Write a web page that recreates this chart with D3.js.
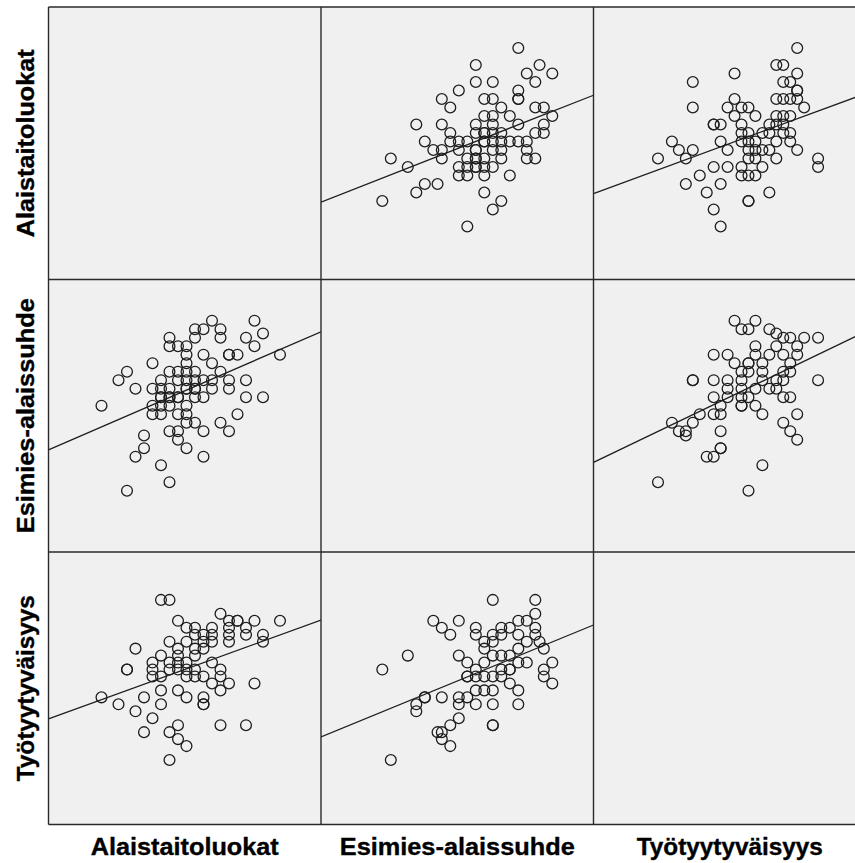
<!DOCTYPE html>
<html>
<head>
<meta charset="utf-8">
<script src="https://cdn.jsdelivr.net/npm/d3@7"></script>
<style>
  html, body { margin: 0; padding: 0; background: #fff; }
  svg { display: block; }
</style>
</head>
<body>
<svg id="chart" width="855" height="863"></svg>
<script>
// ---- Variables (scale scores) ----
const variableNames = ["Alaistaitoluokat", "Esimies-alaissuhde", "Työtyytyväisyys"];

// Pair: Esimies-alaissuhde (E) vs Alaistaitoluokat (A)
const aeEsimies = [26, 21, 28.5, 27, 30, 21, 23, 28, 19, 26, 17, 22, 23, 26, 26, 18, 24, 28, 29, 22, 23, 25, 30,
  14, 17, 21, 23, 26, 29, 18, 21, 22, 22, 23, 24, 28, 29, 15, 18, 19, 20, 22, 22, 23, 24, 25, 26, 27,
  16, 17, 19, 21, 21, 23, 24, 27, 11, 17, 20, 21, 21, 22, 24, 27, 28, 13, 19, 20, 21, 21, 22, 23,
  19, 20, 22, 25, 15, 16.5, 14, 22, 10, 24, 23, 20];
const aeAlaistaito = [40, 38, 38, 37, 37, 36, 36, 36, 35, 35, 34, 34, 34, 34, 34, 33, 33, 33, 33, 32, 32, 32, 32,
  31, 31, 31, 31, 31, 31, 30, 30, 30, 30, 30, 30, 30, 30, 29, 29, 29, 29, 29, 29, 29, 29, 29, 29, 29,
  28, 28, 28, 28, 28, 28, 28, 28, 27, 27, 27, 27, 27, 27, 27, 27, 27, 26, 26, 26, 26, 26, 26, 26,
  25, 25, 25, 25, 24, 24, 23, 23, 22, 22, 21, 19];

// Pair: Työtyytyväisyys (T) vs Alaistaitoluokat (A)
const atTyo = [40, 37, 38, 31, 40, 25, 38, 39, 40, 40, 31, 37, 38, 39, 40, 25, 30, 32, 33, 41, 31, 34, 37, 38, 39,
  28, 28, 29, 32, 36, 37, 38, 32, 33, 35, 36, 38, 39, 22, 29, 32, 33, 34, 37, 39,
  23, 25, 30, 33, 34, 35, 36, 40, 20, 24, 33, 34, 37, 43, 28, 30, 32, 35, 43,
  26, 32, 33, 34, 24, 29, 27, 36, 33, 33, 28, 29];
const atAlaistaito = [40, 38, 38, 37, 37, 36, 36, 36, 35, 35, 34, 34, 34, 34, 34, 33, 33, 33, 33, 33, 32, 32, 32, 32, 32,
  31, 31, 31, 31, 31, 31, 31, 30, 30, 30, 30, 30, 30, 29, 29, 29, 29, 29, 29, 29,
  28, 28, 28, 28, 28, 28, 28, 28, 27, 27, 27, 27, 27, 27, 26, 26, 26, 26, 26,
  25, 25, 25, 25, 24, 24, 23, 23, 22, 22, 21, 19];

// Pair: Työtyytyväisyys (T) vs Esimies-alaissuhde (E)
const etTyo = [31, 34, 32, 33, 36, 37, 38, 39, 41, 43, 34, 37, 40, 28, 30, 34, 36, 38, 40,
  31, 33, 33, 35, 39, 32, 33, 35, 38, 39, 25, 25, 28, 30, 32, 35, 37, 38, 43,
  30, 32, 34, 36, 37, 28, 30, 32, 33, 38, 39, 29, 32, 32, 34, 26, 28, 29, 35, 40,
  22, 25, 38, 23, 24, 29, 39, 24, 40, 29, 29, 27, 28, 35, 20, 33];
const etEsimies = [30, 30, 29, 29, 29, 28.5, 28, 28, 28, 28, 27, 27, 27, 26, 26, 26, 26, 26, 26,
  25, 25, 25, 25, 25, 24, 24, 24, 24, 24, 23, 23, 23, 23, 23, 23, 23, 23, 23,
  22, 22, 22, 22, 22, 21, 21, 21, 21, 21, 21, 20, 20, 20, 20, 19, 19, 19, 19, 19,
  18, 18, 18, 17, 17, 17, 17, 16.5, 16, 15, 15, 14, 14, 13, 11, 10];

// scale domains of each variable across one matrix cell
const domains = [[12.765, 44.824], [2.788, 34.847], [10.733, 49.885]];

// ---- Layout ----
const cell = 272.5, leftX = 48.5, topY = 7;
const labelLengths = [188, 235, 186];
const svg = d3.select("#chart");
const frameColor = "#2a2a2a";

function pairData(xi, yi) {
  const key = xi + "" + yi;
  const m = {
    "10": [aeEsimies, aeAlaistaito], "01": [aeAlaistaito, aeEsimies],
    "20": [atTyo, atAlaistaito], "02": [atAlaistaito, atTyo],
    "21": [etTyo, etEsimies], "12": [etEsimies, etTyo]
  };
  const [xs, ys] = m[key];
  return xs.map((x, k) => ({ x: x, y: ys[k] }));
}

const defs = svg.append("defs");

for (let r = 0; r < 3; r++) {
  for (let c = 0; c < 3; c++) {
    const x0 = leftX + c * cell, y0 = topY + r * cell;
    const g = svg.append("g");
    g.append("rect").attr("x", x0).attr("y", y0).attr("width", cell).attr("height", cell)
      .attr("fill", "#f0f0f0");
    if (r === c) continue;
    const xs = d3.scaleLinear().domain(domains[c]).range([x0, x0 + cell]);
    const ys = d3.scaleLinear().domain(domains[r]).range([y0 + cell, y0]);
    const data = pairData(c, r);
    const clipId = "clip" + r + c;
    defs.append("clipPath").attr("id", clipId).append("rect")
      .attr("x", x0).attr("y", y0).attr("width", cell).attr("height", cell);
    const inner = g.append("g").attr("clip-path", `url(#${clipId})`);
    inner.selectAll("circle").data(data).join("circle")
      .attr("cx", d => xs(d.x)).attr("cy", d => ys(d.y)).attr("r", 5.4)
      .attr("fill", "none").attr("stroke", "#1e1e1e").attr("stroke-width", 1.3);
    // least-squares fit line
    const mx = d3.mean(data, d => d.x), my = d3.mean(data, d => d.y);
    const sxy = d3.sum(data, d => (d.x - mx) * (d.y - my));
    const sxx = d3.sum(data, d => (d.x - mx) * (d.x - mx));
    const b = sxy / sxx, a = my - b * mx;
    const dx = domains[c];
    inner.append("line")
      .attr("x1", xs(dx[0])).attr("y1", ys(a + b * dx[0]))
      .attr("x2", xs(dx[1])).attr("y2", ys(a + b * dx[1]))
      .attr("stroke", "#1e1e1e").attr("stroke-width", 1.3);
  }
}

// frame lines
for (let k = 0; k <= 3; k++) {
  svg.append("line").attr("x1", leftX + k * cell).attr("x2", leftX + k * cell)
    .attr("y1", topY).attr("y2", topY + 3 * cell)
    .attr("stroke", frameColor).attr("stroke-width", 1.4);
  svg.append("line").attr("y1", topY + k * cell).attr("y2", topY + k * cell)
    .attr("x1", leftX).attr("x2", leftX + 3 * cell)
    .attr("stroke", frameColor).attr("stroke-width", 1.4);
}

// labels
const font = "'Liberation Sans', Arial, sans-serif";
variableNames.forEach((name, i) => {
  svg.append("text").text(name)
    .attr("x", leftX + i * cell + cell / 2).attr("y", 854.5)
    .attr("text-anchor", "middle").attr("font-family", font)
    .attr("font-weight", "bold").attr("font-size", 23.5).attr("fill", "#000")
    .attr("stroke", "#000").attr("stroke-width", 0.35)
    .attr("textLength", labelLengths[i]).attr("lengthAdjust", "spacingAndGlyphs");
  svg.append("text").text(name)
    .attr("transform", `translate(33.5,${topY + i * cell + cell / 2}) rotate(-90)`)
    .attr("text-anchor", "middle").attr("font-family", font)
    .attr("font-weight", "bold").attr("font-size", 23.5).attr("fill", "#000")
    .attr("stroke", "#000").attr("stroke-width", 0.35)
    .attr("textLength", labelLengths[i]).attr("lengthAdjust", "spacingAndGlyphs");
});
</script>
</body>
</html>
